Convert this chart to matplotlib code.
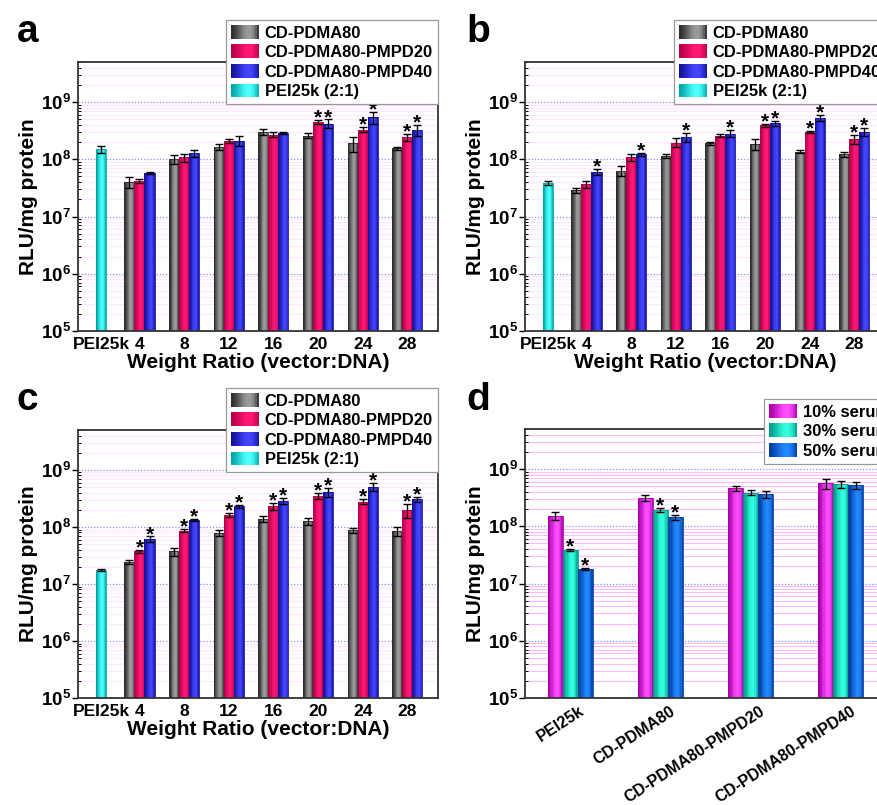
import numpy as np
import matplotlib
matplotlib.use('Agg')
import matplotlib.pyplot as plt
from matplotlib.patches import Patch, Rectangle
from matplotlib.legend_handler import HandlerBase
from matplotlib.ticker import LogLocator, FixedLocator, FuncFormatter, NullFormatter
from matplotlib.colors import to_rgb
import matplotlib.transforms as mtransforms

plt.rcParams.update({
    'font.family': ['Liberation Sans', 'DejaVu Sans'],
    'font.weight': 'bold',
    'axes.labelweight': 'bold',
    'mathtext.fontset': 'custom',
    'mathtext.rm': 'Liberation Sans:bold',
    'mathtext.bf': 'Liberation Sans:bold',
    'mathtext.it': 'Liberation Sans:bold:italic',
})

# ---------------- data ----------------
ratios = [4, 8, 12, 16, 20, 24, 28]
ratio_labels = ['4', '8', '12', '16', '20', '24', '28']
series_names = ['CD-PDMA80', 'CD-PDMA80-PMPD20', 'CD-PDMA80-PMPD40', 'PEI25k (2:1)']

# panel a
a_pei, a_pei_err = 1.5e8, 2.1e7
a_gray = [4.0e7, 1.0e8, 1.66e8, 3.0e8, 2.6e8, 1.9e8, 1.56e8]
a_gray_err = [9e6, 1.9e7, 2.2e7, 3.3e7, 2.2e7, 5.5e7, 1.1e7]
a_red = [4.2e7, 1.08e8, 2.1e8, 2.7e8, 4.5e8, 3.3e8, 2.4e8]
a_red_err = [4e6, 1.8e7, 1.8e7, 3e7, 3.5e7, 3.2e7, 3.4e7]
a_blue = [5.8e7, 1.27e8, 2.1e8, 2.9e8, 4.2e8, 5.4e8, 3.25e8]
a_blue_err = [2e6, 1.8e7, 4e7, 1e7, 7.5e7, 1.2e8, 7.5e7]
a_red_stars = [4, 5, 6]
a_blue_stars = [4, 5, 6]

# panel b
b_pei, b_pei_err = 3.9e7, 3.5e6
b_gray = [2.9e7, 6.3e7, 1.14e8, 1.9e8, 1.83e8, 1.36e8, 1.22e8]
b_gray_err = [3e6, 1.3e7, 8e6, 1.3e7, 4e7, 8e6, 1.4e7]
b_red = [3.7e7, 1.08e8, 1.96e8, 2.6e8, 3.9e8, 3.04e8, 2.27e8]
b_red_err = [5e6, 1.4e7, 3.5e7, 2e7, 3e7, 1.3e7, 4e7]
b_blue = [6.1e7, 1.22e8, 2.4e8, 2.8e8, 4.25e8, 5.3e8, 3.04e8]
b_blue_err = [7e6, 8e6, 4.3e7, 4e7, 5e7, 6.5e7, 4.5e7]
b_red_stars = [4, 5, 6]
b_blue_stars = [0, 1, 2, 3, 4, 5, 6]

# panel c
c_pei, c_pei_err = 1.76e7, 1e6
c_gray = [2.43e7, 3.74e7, 7.85e7, 1.4e8, 1.26e8, 8.7e7, 8.4e7]
c_gray_err = [2e6, 6e6, 9e6, 1.8e7, 1.6e7, 1e7, 1.4e7]
c_red = [3.74e7, 8.6e7, 1.62e8, 2.3e8, 3.5e8, 2.78e8, 1.99e8]
c_red_err = [2e6, 5.5e6, 1.4e7, 3e7, 4e7, 3e7, 5.5e7]
c_blue = [6.1e7, 1.33e8, 2.3e8, 2.86e8, 4.1e8, 5.1e8, 3.05e8]
c_blue_err = [7e6, 4e6, 1.3e7, 3.2e7, 7.5e7, 9e7, 3e7]
c_red_stars = [0, 1, 2, 3, 4, 5, 6]
c_blue_stars = [0, 1, 2, 3, 4, 5, 6]

# panel d
d_cats = ['PEI25k', 'CD-PDMA80', 'CD-PDMA80-PMPD20', 'CD-PDMA80-PMPD40']
d_names = ['10% serum', '30% serum', '50% serum']
d_s10 = [1.54e8, 3.1e8, 4.58e8, 5.6e8]
d_s10_err = [2.5e7, 3.5e7, 4.5e7, 1.2e8]
d_s30 = [3.85e7, 1.94e8, 3.85e8, 5.4e8]
d_s30_err = [2e6, 1.4e7, 3.8e7, 7e7]
d_s50 = [1.79e7, 1.44e8, 3.6e8, 5.2e8]
d_s50_err = [1e6, 1.6e7, 4.5e7, 8e7]
d_s30_stars = [0, 1]
d_s50_stars = [0, 1]

# ---------------- styles ----------------
GRAY = ('#2b2b2b', '#9a9a9a')
RED = ('#b8004a', '#ff1775')
BLUE = ('#12129a', '#4444ff')
CYAN = ('#00a6a6', '#4dffff')
MAG = ('#a800a8', '#ff4dff')
TEAL = ('#009c8a', '#33ffe0')
DBLUE = ('#003c9e', '#2288ff')

PEI_POS = 0.55
BW = 0.9
XLIM = (-1.51, 30.75)
YLIM = (1e5, 5e9)

W, H = 878, 805


def shade(pair, t):
    d = np.array(to_rgb(pair[0]))
    l = np.array(to_rgb(pair[1]))
    f = np.sin(np.pi * t ** 1.5)
    return tuple(d + (l - d) * f)


def grad_bars(ax, xs, vals, width, pair, base=1e5, n=12):
    xs = np.asarray(xs, float)
    vals = np.asarray(vals, float)
    for i in range(n):
        t = (i + 0.5) / n
        ax.bar(xs - width / 2 + (i + 0.5) * width / n, vals - base, bottom=base,
               width=width / n * 1.05, color=shade(pair, t), edgecolor='none',
               linewidth=0, zorder=2)
    ax.bar(xs, vals - base, bottom=base, width=width, fill=False,
           edgecolor=pair[0], linewidth=0.6, zorder=2.1)


def err_and_stars(ax, xs, vals, errs, stars):
    xs = np.asarray(xs, float)
    vals = np.asarray(vals, float)
    errs = np.asarray(errs, float)
    ax.errorbar(xs, vals, yerr=errs, fmt='none', ecolor='black', elinewidth=1.0,
                capsize=2.6, capthick=1.0, zorder=3)
    for i in stars:
        ax.annotate('*', (xs[i], vals[i] + errs[i]), xytext=(0, -2.5),
                    textcoords='offset points', ha='center', va='baseline',
                    fontsize=15, fontweight='bold', zorder=4)


class GradHandler(HandlerBase):
    def __init__(self, pair):
        super().__init__()
        self.pair = pair

    def create_artists(self, legend, orig_handle, xdescent, ydescent, width,
                       height, fontsize, trans):
        arts = []
        n = 14
        for i in range(n):
            t = (i + 0.5) / n
            r = Rectangle((-xdescent + i * width / n, -ydescent), width / n * 1.05,
                          height, facecolor=shade(self.pair, t), edgecolor='none',
                          transform=trans)
            arts.append(r)
        return arts


def setup_axis(ax, pink):
    ax.set_yscale('log')
    ax.set_ylim(*YLIM)
    ax.yaxis.set_major_locator(FixedLocator([1e5, 1e6, 1e7, 1e8, 1e9]))
    ax.yaxis.set_major_formatter(FuncFormatter(
        lambda v, p: r'$\mathbf{10^{%d}}$' % round(np.log10(v))))
    ax.yaxis.set_minor_locator(LogLocator(base=10, subs=np.arange(2, 10), numticks=30))
    ax.yaxis.set_minor_formatter(NullFormatter())
    ax.set_axisbelow(True)
    ax.grid(which='minor', axis='y', color=pink, lw=0.8, zorder=0)
    ax.grid(which='major', axis='y', color='#8c8cff', lw=0.9, ls=(0, (1, 1.5)), zorder=0)
    ax.tick_params(axis='y', which='major', direction='out', length=4, width=1.0,
                   labelsize=13.5, pad=1)
    ax.tick_params(axis='y', which='minor', direction='in', length=2.5, width=0.7)
    ax.tick_params(axis='x', length=0, labelsize=12.5, pad=4)
    for s in ax.spines.values():
        s.set_color('#333333')
        s.set_linewidth(1.3)
    ax.set_ylabel('RLU/mg protein', fontsize=15, labelpad=2)


def add_legend(ax, names, pairs, x_px, y_px):
    handles = [Patch(label=n) for n in names]
    hmap = {h: GradHandler(p) for h, p in zip(handles, pairs)}
    leg = ax.legend(handles=handles, handler_map=hmap, loc='upper left',
                    bbox_to_anchor=(x_px / W, 1 - y_px / H),
                    bbox_transform=ax.figure.transFigure, frameon=True,
                    fancybox=False, edgecolor='#999999', framealpha=1,
                    fontsize=11.9, handlelength=1.7, handleheight=0.9,
                    handletextpad=0.35, labelspacing=0.24, borderpad=0.3,
                    borderaxespad=0)
    leg.get_frame().set_linewidth(0.9)
    leg.set_zorder(10)
    return leg


def ratio_panel(ax, pei, pei_err, gray, gray_err, red, red_err, blue, blue_err,
                red_stars, blue_stars):
    setup_axis(ax, '#ffe8ff')
    x = np.asarray(ratios, float)
    grad_bars(ax, [PEI_POS], [pei], BW, CYAN)
    grad_bars(ax, x - BW, gray, BW, GRAY)
    grad_bars(ax, x, red, BW, RED)
    grad_bars(ax, x + BW, blue, BW, BLUE)
    err_and_stars(ax, [PEI_POS], [pei], [pei_err], [])
    err_and_stars(ax, x - BW, gray, gray_err, [])
    err_and_stars(ax, x, red, red_err, red_stars)
    err_and_stars(ax, x + BW, blue, blue_err, blue_stars)
    ax.set_xlim(*XLIM)
    ax.set_xticks([PEI_POS] + list(ratios))
    ax.set_xticklabels(['PEI25k'] + ratio_labels)
    ax.set_xlabel('Weight Ratio (vector:DNA)', fontsize=15, labelpad=1)
    return ax


fig = plt.figure(figsize=(W / 100, H / 100), dpi=100)

def axes_px(left, top, right, bottom):
    return fig.add_axes([left / W, 1 - bottom / H, (right - left) / W, (bottom - top) / H])

ax_a = axes_px(78, 62, 438, 331)
ax_b = axes_px(525, 62, 885, 331)
ax_c = axes_px(78, 430, 438, 698)
ax_d = axes_px(525, 429, 886, 698)

ratio_panel(ax_a, a_pei, a_pei_err, a_gray, a_gray_err, a_red, a_red_err,
            a_blue, a_blue_err, a_red_stars, a_blue_stars)
ratio_panel(ax_b, b_pei, b_pei_err, b_gray, b_gray_err, b_red, b_red_err,
            b_blue, b_blue_err, b_red_stars, b_blue_stars)
ratio_panel(ax_c, c_pei, c_pei_err, c_gray, c_gray_err, c_red, c_red_err,
            c_blue, c_blue_err, c_red_stars, c_blue_stars)

add_legend(ax_a, series_names, [GRAY, RED, BLUE, CYAN], 226, 20)
add_legend(ax_b, series_names, [GRAY, RED, BLUE, CYAN], 674, 20)
add_legend(ax_c, series_names, [GRAY, RED, BLUE, CYAN], 226, 388)

# panel d
setup_axis(ax_d, '#ffbaff')
xd = np.arange(len(d_cats), dtype=float)
DW = 0.166
grad_bars(ax_d, xd - DW, d_s10, DW, MAG)
grad_bars(ax_d, xd, d_s30, DW, TEAL)
grad_bars(ax_d, xd + DW, d_s50, DW, DBLUE)
err_and_stars(ax_d, xd - DW, d_s10, d_s10_err, [])
err_and_stars(ax_d, xd, d_s30, d_s30_err, d_s30_stars)
err_and_stars(ax_d, xd + DW, d_s50, d_s50_err, d_s50_stars)
ax_d.set_xlim(-0.5, 3.5)
ax_d.set_xticks(xd)
ax_d.set_xticklabels(d_cats, rotation=33, ha='right', va='top', rotation_mode='anchor',
                     fontsize=11.6)
off = mtransforms.ScaledTranslation(9 / 100, 0, fig.dpi_scale_trans)
for lab in ax_d.get_xticklabels():
    lab.set_transform(lab.get_transform() + off)
add_legend(ax_d, d_names, [MAG, TEAL, DBLUE], 764, 399)

for letter, x, y in [('a', 17, 42), ('b', 466, 42), ('c', 17, 410), ('d', 466, 410)]:
    fig.text(x / W, 1 - y / H, letter, fontsize=28, fontweight='bold', va='baseline')

fig.savefig('out.png', dpi=100)
